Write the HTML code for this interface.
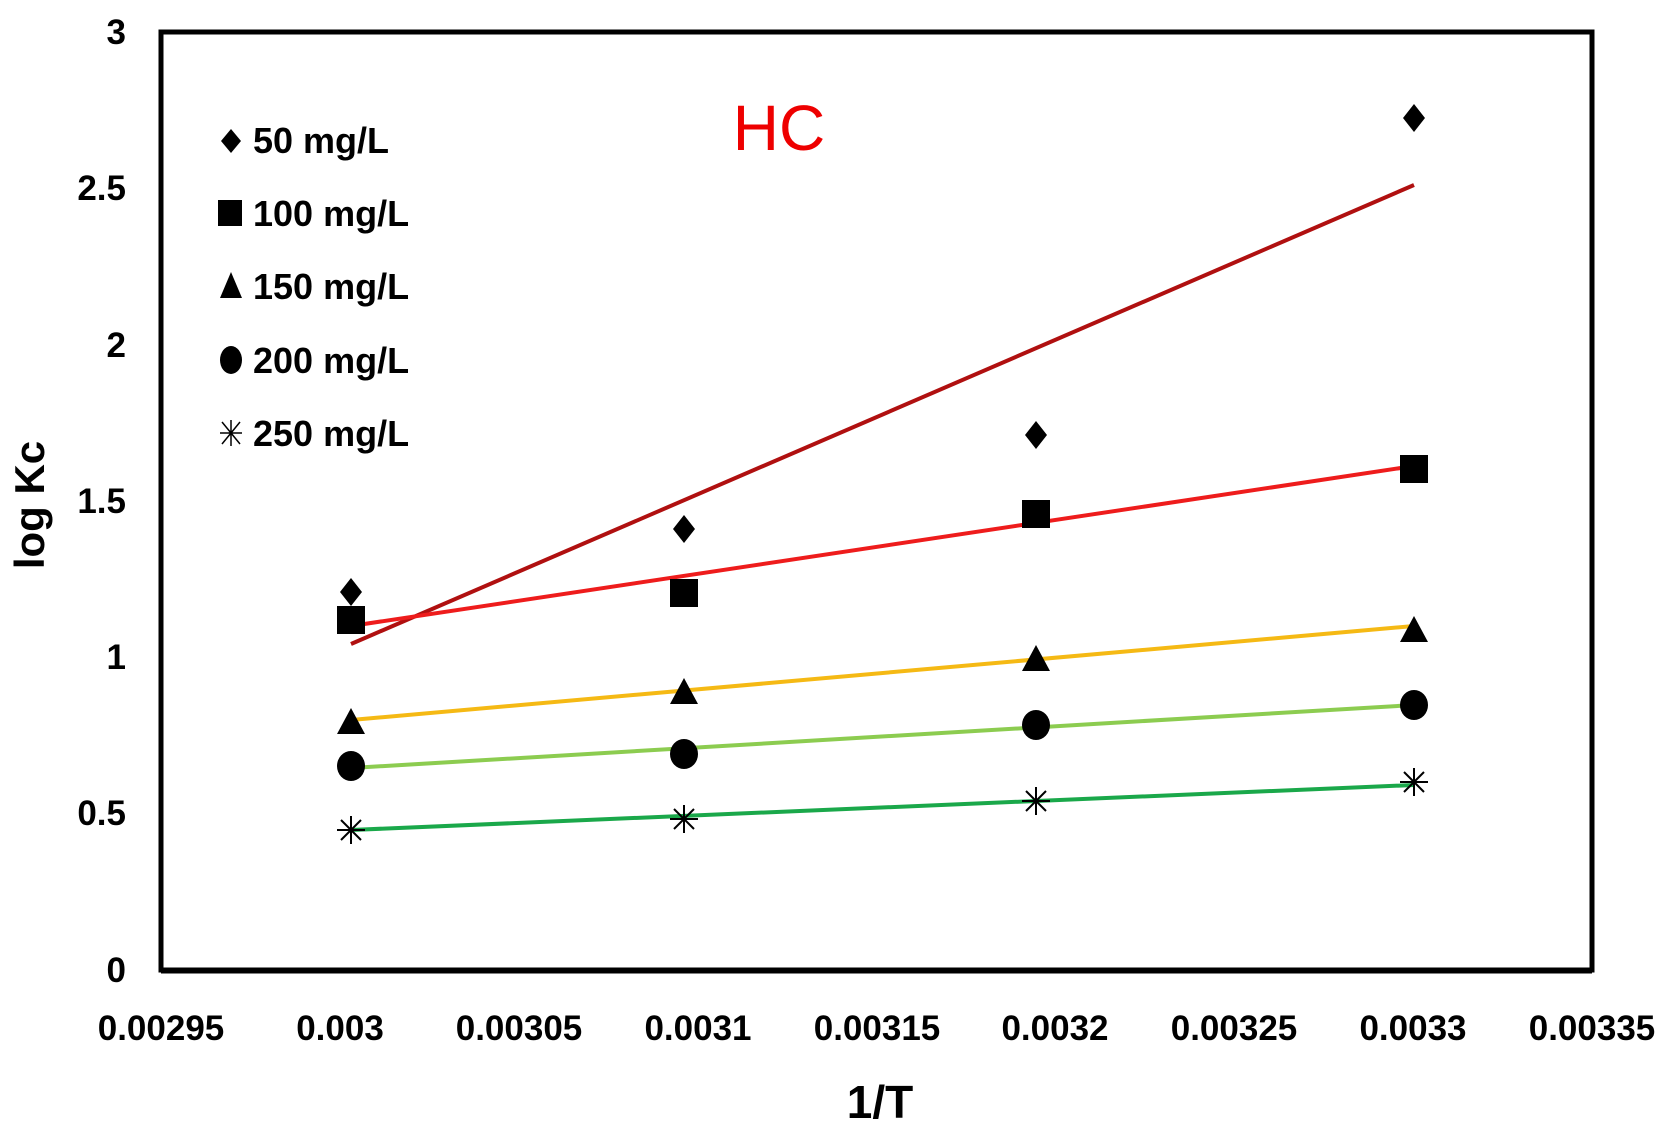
<!DOCTYPE html>
<html><head><style>html,body{margin:0;padding:0;background:#fff}svg{display:block}text{font-family:"Liberation Sans Narrow","Liberation Sans",sans-serif;font-weight:bold}</style></head>
<body>
<svg width="1675" height="1126" viewBox="0 0 1675 1126" xmlns="http://www.w3.org/2000/svg">
<rect x="161" y="32" width="1431" height="938" fill="none" stroke="#000" stroke-width="5"/>
<line x1="161" y1="972" x2="1592" y2="972" stroke="#000" stroke-width="3"/>
<g font-size="35" text-anchor="end" fill="#000">
<text x="126" y="44">3</text><text x="126" y="200">2.5</text><text x="126" y="357">2</text>
<text x="126" y="513">1.5</text><text x="126" y="669">1</text><text x="126" y="825">0.5</text><text x="126" y="982">0</text>
</g>
<g font-size="35" text-anchor="middle" fill="#000">
<text x="161" y="1040">0.00295</text><text x="340" y="1040">0.003</text><text x="519" y="1040">0.00305</text>
<text x="698" y="1040">0.0031</text><text x="877" y="1040">0.00315</text><text x="1055" y="1040">0.0032</text>
<text x="1234" y="1040">0.00325</text><text x="1413" y="1040">0.0033</text><text x="1592" y="1040">0.00335</text>
</g>
<text x="880" y="1118" font-size="46" text-anchor="middle">1/T</text>
<text transform="translate(44,505) rotate(-90)" font-size="42" text-anchor="middle" font-family="Liberation Sans">log Kc</text>
<text x="779" y="150" font-size="64" fill="#e00" text-anchor="middle" style="font-weight:normal">HC</text>
<g stroke-width="4" fill="none">
<line x1="351" y1="644" x2="1414" y2="185" stroke="#b01010"/>
<line x1="351" y1="626" x2="1414" y2="466" stroke="#ee1c1c"/>
<line x1="351" y1="720" x2="1414" y2="626" stroke="#f5b914"/>
<line x1="351" y1="768" x2="1414" y2="705" stroke="#8ccc50"/>
<line x1="351" y1="830" x2="1414" y2="785" stroke="#1aa84a"/>
</g>
<g fill="#000">
<g id="d"><path d="M351 578 l11 14 -11 14 -11 -14z"/><path d="M684 515 l11 14 -11 14 -11 -14z"/><path d="M1036 421 l11 14 -11 14 -11 -14z"/><path d="M1414 104 l11 14 -11 14 -11 -14z"/></g>
<rect x="337" y="606" width="28" height="28"/><rect x="670" y="579" width="28" height="28"/><rect x="1022" y="500" width="28" height="28"/><rect x="1400" y="455" width="28" height="28"/>
<path d="M351 708 l14 26 h-28z"/><path d="M684 678 l14 26 h-28z"/><path d="M1036 645 l14 26 h-28z"/><path d="M1414 616 l14 26 h-28z"/>
<ellipse cx="351" cy="766" rx="14" ry="15"/><ellipse cx="684" cy="754" rx="14" ry="15"/><ellipse cx="1036" cy="725" rx="14" ry="15"/><ellipse cx="1414" cy="705" rx="14" ry="15"/>
</g>
<g stroke="#000" stroke-width="2">
<path d="M337 830h28M351 816v28M341 820l20 20M361 820l-20 20"/>
<path d="M670 819h28M684 805v28M674 809l20 20M694 809l-20 20"/>
<path d="M1022 801h28M1036 787v28M1026 791l20 20M1046 791l-20 20"/>
<path d="M1400 782h28M1414 768v28M1404 772l20 20M1424 772l-20 20"/>
</g>
<g fill="#000">
<path d="M231 129 l10 12 -10 12 -10 -12z"/>
<rect x="218" y="200" width="24" height="26"/>
<path d="M231 272 l11 26 h-22z"/>
<ellipse cx="231" cy="360" rx="11" ry="14"/>
</g>
<path d="M220 433h22M231 420v26M222 422l18 22M240 422l-18 22" stroke="#000" stroke-width="1.5"/>
<g font-size="36" fill="#000">
<text x="253" y="153">50 mg/L</text><text x="253" y="226">100 mg/L</text><text x="253" y="299">150 mg/L</text>
<text x="253" y="373">200 mg/L</text><text x="253" y="446">250 mg/L</text>
</g>
</svg>
</body></html>
